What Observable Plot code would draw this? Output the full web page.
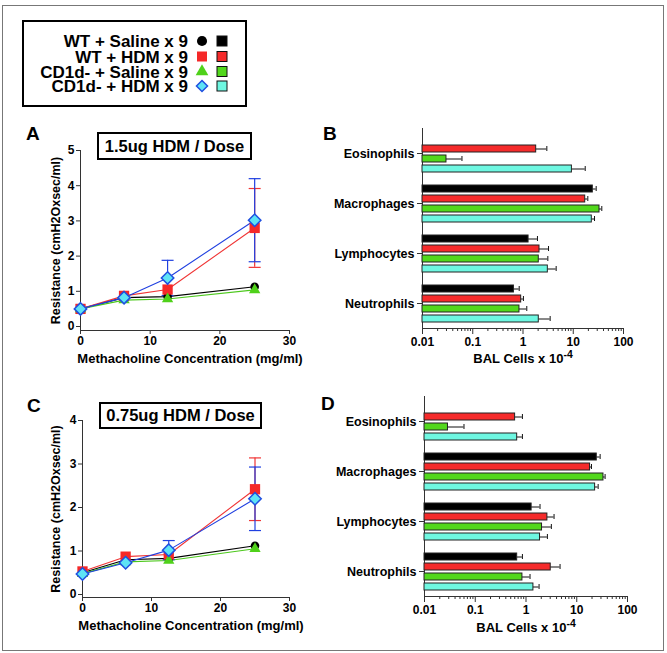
<!DOCTYPE html>
<html><head><meta charset="utf-8">
<script src="https://cdn.jsdelivr.net/npm/d3@7"></script>
<script src="https://cdn.jsdelivr.net/npm/@observablehq/plot@0.6"></script>
<style>
body{margin:0;background:#fff;}
#fig{position:relative;width:667px;height:653px;overflow:hidden;font-family:"Liberation Sans",Arial,sans-serif;font-weight:bold;color:#000;}
.abs{position:absolute;}
.letter{font-size:19px;line-height:1;}
.tbox{border:2px solid #000;text-align:center;box-sizing:border-box;background:#fff;}
</style></head><body><div id="fig"></div>
<script>
// ---------- data ----------
const groups = ["WT + Saline x 9", "WT + HDM x 9", "CD1d- + Saline x 9", "CD1d- + HDM x 9"];
const doses = [0, 6.25, 12.5, 25];
const cellTypes = ["Eosinophils", "Macrophages", "Lymphocytes", "Neutrophils"];

// Panel A (1.5ug HDM / Dose): rows = groups, columns = doses
const resistanceA = [
  [0.50, 0.82, 0.85, 1.13],
  [0.50, 0.87, 1.05, 2.80],
  [0.50, 0.75, 0.78, 1.04],
  [0.50, 0.82, 1.38, 3.02]
];
const semA = [
  [0, 0, 0, 0],
  [0, 0, 0, 1.12],
  [0, 0, 0, 0],
  [0, 0, 0.50, 1.18]
];
// Panel C (0.75ug HDM / Dose)
const resistanceC = [
  [0.50, 0.80, 0.83, 1.12],
  [0.53, 0.87, 0.92, 2.42],
  [0.48, 0.75, 0.78, 1.05],
  [0.47, 0.73, 1.02, 2.20]
];
const semC = [
  [0, 0, 0, 0],
  [0, 0, 0, 0.72],
  [0, 0, 0, 0],
  [0, 0, 0.22, 0.73]
];
// Panel B BAL cells (x10^-4): rows = groups, columns = cellTypes
const balB = [
  [null, 24.5, 1.29, 0.66],
  [1.83, 17.3, 2.13, 0.92],
  [0.030, 33.3, 2.06, 0.85],
  [9.4, 23.4, 3.12, 2.06]
];
const semB = [
  [null, 4.1, 0.65, 0.18],
  [1.15, 2.2, 1.09, 0.10],
  [0.031, 3.7, 1.06, 0.34],
  [7.9, 3.1, 1.45, 1.41]
];
// Panel D
const balD = [
  [null, 24.8, 1.29, 0.67],
  [0.61, 18.3, 2.64, 3.07],
  [0.029, 33.6, 2.07, 0.85],
  [0.67, 23.0, 1.89, 1.40]
];
const semD = [
  [null, 4.1, 0.60, 0.18],
  [0.24, 1.2, 0.93, 1.62],
  [0.031, 2.6, 1.09, 0.35],
  [0.18, 3.4, 0.75, 0.41]
];

const doseTicks = [0, 10, 20, 30];
const doseDomain = [0, 30];
const resTicksA = [0, 1, 2, 3, 4, 5];
const resTicksC = [0, 1, 2, 3, 4];
const balTicks = [0.01, 0.1, 1, 10, 100];
const balDomain = [0.01, 100];
const titleA = "1.5ug HDM / Dose";
const titleC = "0.75ug HDM / Dose";
const panelLetters = ["A", "B", "C", "D"];
const xTitleLine = "Methacholine Concentration (mg/ml)";
const yTitleLine = "Resistance (cmH2Oxsec/ml)";
const xTitleBar = "BAL Cells x 10";
const xTitleBarSup = "-4";

// ---------- styles ----------
const axisColor = "#333";
const lineColors = ["#000000", "#f03535", "#4cc81c", "#2040e0"];
const markFill = ["#000000", "#f52828", "#4fd11a", "#5ee3f5"];
const markStroke = ["none", "none", "none", "#1f4fe0"];
const markSymbol = ["circle", "square", "triangle", "diamond2"];
const markR = [4.3, 5.8, 4.2, 5.6];
const barFill = ["#000000", "#f52b2b", "#52d81c", "#6ef7e1"];
const fontStack = '"Liberation Sans", Arial, sans-serif';
const svgStyle = `font-family:${fontStack};font-size:12px;font-weight:bold;background:transparent;overflow:visible;color:#000;`;

const fig = document.getElementById("fig");
function place(node, left, top) {
  const d = document.createElement("div");
  d.className = "abs";
  d.style.left = left + "px";
  d.style.top = top + "px";
  d.appendChild(node);
  fig.appendChild(d);
  return d;
}

// ---------- frame + legend ----------
const deco = d3.create("svg").attr("width", 667).attr("height", 653)
  .style("position", "absolute").style("left", 0).style("top", 0);
deco.append("rect").attr("x", 2.5).attr("y", 5.5).attr("width", 661).attr("height", 645)
  .attr("fill", "none").attr("stroke", "#777").attr("stroke-width", 1);
deco.append("rect").attr("x", 23).attr("y", 21).attr("width", 223).attr("height", 85)
  .attr("fill", "#fff").attr("stroke", "#000").attr("stroke-width", 2);
const legY = [41, 56.5, 71.5, 86];
const legSym = [d3.symbolCircle, d3.symbolSquare, d3.symbolTriangle, d3.symbolDiamond2];
const legSize = [80, 100, 70, 78];
groups.forEach((g, i) => {
  deco.append("text").attr("x", 188).attr("y", legY[i]).attr("dy", "0.36em")
    .attr("text-anchor", "end").attr("font-family", fontStack).attr("font-weight", "bold")
    .attr("font-size", 17).text(g);
  deco.append("path").attr("transform", `translate(202,${legY[i]})`)
    .attr("d", d3.symbol().type(legSym[i]).size(legSize[i])())
    .attr("fill", markFill[i]).attr("stroke", markStroke[i]).attr("stroke-width", 1.5);
  deco.append("rect").attr("x", 217).attr("y", legY[i] - 5).attr("width", 10).attr("height", 10)
    .attr("fill", barFill[i]).attr("stroke", "#111").attr("stroke-width", 1);
});
fig.appendChild(deco.node());

// ---------- line panels ----------
const capSymbol = { draw(ctx, size) { const w = Math.sqrt(size / Math.PI); ctx.moveTo(-w, 0); ctx.lineTo(w, 0); } };

function linePanel(res, sem, yTicks, P) {
  const pts = groups.flatMap((g, i) => doses.map((d, j) => ({ gi: i, dose: d, r: res[i][j], sem: sem[i][j] })));
  const marks = [
    Plot.frame({ anchor: "left", stroke: axisColor }),
    Plot.frame({ anchor: "bottom", stroke: axisColor }),
    Plot.axisX({ ticks: doseTicks, tickSize: 4, tickPadding: 2, tickFormat: d => String(d), label: null, stroke: axisColor, fontSize: 12 }),
    Plot.axisY({ ticks: yTicks, tickSize: 4, tickPadding: 2, tickFormat: d => String(d), label: null, stroke: axisColor, fontSize: 12 }),
    Plot.text([yTitleLine], { frameAnchor: "left", textAnchor: "middle", lineAnchor: "middle", rotate: -90, dx: P.yTitleDx, fontSize: 12.5 }),
    Plot.text([xTitleLine], { frameAnchor: "bottom", textAnchor: "middle", lineAnchor: "middle", dy: 28, dx: 5, fontSize: 13 })
  ];
  groups.forEach((g, i) => {
    const gp = pts.filter(p => p.gi === i);
    const ge = gp.filter(p => p.sem > 0);
    marks.push(Plot.ruleX(ge, { x: "dose", y1: d => d.r - d.sem, y2: d => d.r + d.sem, stroke: lineColors[i], strokeWidth: 1.2 }));
    marks.push(Plot.dot(ge, { x: "dose", y: d => d.r + d.sem, symbol: capSymbol, r: 6, fill: "none", stroke: lineColors[i], strokeWidth: 1.2 }));
    marks.push(Plot.dot(ge, { x: "dose", y: d => d.r - d.sem, symbol: capSymbol, r: 6, fill: "none", stroke: lineColors[i], strokeWidth: 1.2 }));
    marks.push(Plot.line(gp, { x: "dose", y: "r", stroke: lineColors[i], strokeWidth: 1.1 }));
  });
  groups.forEach((g, i) => {
    const gp = pts.filter(p => p.gi === i);
    marks.push(Plot.dot(gp, { x: "dose", y: "r", symbol: markSymbol[i], r: markR[i], fill: markFill[i], stroke: markStroke[i], strokeWidth: 1.5 }));
  });
  return Plot.plot({
    width: P.width, height: P.height,
    marginLeft: P.mL, marginRight: P.mR, marginTop: P.mT, marginBottom: P.mB,
    style: svgStyle,
    x: { domain: doseDomain },
    y: { domain: [0, yTicks[yTicks.length - 1]], insetBottom: P.inset },
    marks
  });
}

// ---------- bar panels ----------
function barPanel(vals, sems, P) {
  const rows = [];
  groups.forEach((g, i) => cellTypes.forEach((c, j) => {
    if (vals[i][j] != null) rows.push({ group: g, cell: c, v: vals[i][j], hi: vals[i][j] + sems[i][j] });
  }));
  const minor = [];
  for (let e = -2; e < 2; e++) for (let k = 2; k < 10; k++) minor.push(k * Math.pow(10, e));
  const svg = Plot.plot({
    width: P.width, height: P.height,
    marginLeft: P.mL, marginRight: P.mR, marginTop: P.mT, marginBottom: P.mB,
    style: svgStyle,
    x: { type: "log", domain: balDomain },
    y: { domain: groups, paddingInner: 0.31, paddingOuter: 0, insetTop: P.ins, insetBottom: P.ins, axis: null },
    fy: { domain: cellTypes, paddingInner: 0, paddingOuter: 0 },
    color: { domain: groups, range: barFill },
    marks: [
      Plot.frame({ anchor: "left", stroke: axisColor }),
      Plot.frame({ anchor: "bottom", stroke: axisColor, facetAnchor: "bottom" }),
      Plot.axisFy({ anchor: "left", tickSize: 5, tickPadding: 3, label: null, stroke: axisColor, fontSize: 12.5 }),
      Plot.axisX({ ticks: minor, tickSize: 3, tickFormat: () => "", label: null, stroke: axisColor }),
      Plot.axisX({ ticks: balTicks, tickSize: 6, tickPadding: 3, tickFormat: d => String(d), label: null, stroke: axisColor, fontSize: 12 }),
      Plot.text([xTitleBar], { frameAnchor: "bottom", textAnchor: "middle", lineAnchor: "middle", dy: P.titleDy, fontSize: 13, facetAnchor: "bottom" }),
      Plot.ruleY(rows, { y: "group", fy: "cell", x1: "v", x2: "hi", stroke: "#111" }),
      Plot.tickX(rows, { x: "hi", y: "group", fy: "cell", stroke: "#111", insetTop: 1, insetBottom: 1 }),
      Plot.barX(rows, { y: "group", fy: "cell", x1: balDomain[0], x2: "v", fill: "group", stroke: "#222", strokeWidth: 1 })
    ]
  });
  d3.select(svg).selectAll("text").filter(function () { return this.textContent === xTitleBar; })
    .append("tspan").attr("dy", "-0.45em").attr("font-size", "0.8em").text(xTitleBarSup);
  return svg;
}

place(linePanel(resistanceA, semA, resTicksA, { width: 310, height: 230, mL: 80, mR: 21, mT: 10, mB: 40, inset: 4, yTitleDx: -25 }), 0, 140);
place(linePanel(resistanceC, semC, resTicksC, { width: 310, height: 240, mL: 82, mR: 21, mT: 20, mB: 43, inset: 3, yTitleDx: -27 }), 0, 400);
place(barPanel(balB, semB, { width: 323, height: 263, mL: 102, mR: 20, mT: 15, mB: 47, ins: 5.1, titleDy: 30 }), 320, 112);
place(barPanel(balD, semD, { width: 327, height: 265, mL: 104, mR: 20, mT: 15, mB: 48, ins: 5.6, titleDy: 31 }), 320, 380);

// ---------- titles and letters ----------
function box(text, left, top, w, h, fs) {
  const d = document.createElement("div");
  d.className = "abs tbox";
  Object.assign(d.style, { left: left + "px", top: top + "px", width: w + "px", height: h + "px", fontSize: fs + "px", lineHeight: (h - 4) + "px" });
  d.textContent = text;
  fig.appendChild(d);
}
box(titleA, 97, 132, 155, 28, 16.5);
box(titleC, 99, 402, 163, 27, 16.5);
const letterPos = [[26, 124], [323, 124], [27, 396], [321, 394]];
panelLetters.forEach((t, i) => {
  const d = document.createElement("div");
  d.className = "abs letter";
  d.style.left = letterPos[i][0] + "px";
  d.style.top = letterPos[i][1] + "px";
  d.textContent = t;
  fig.appendChild(d);
});
</script></body></html>
